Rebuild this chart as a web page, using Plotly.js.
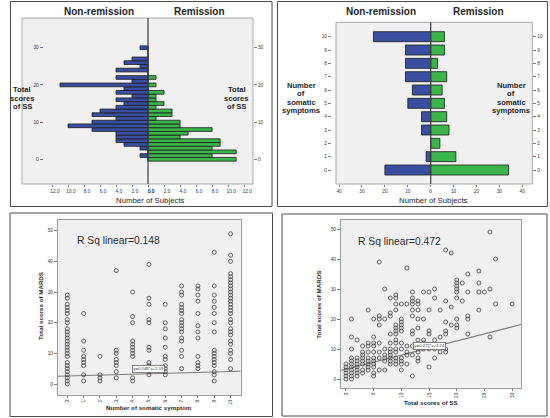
<!DOCTYPE html>
<html><head><meta charset="utf-8">
<script src="https://cdn.plot.ly/plotly-3.0.1.min.js"></script>
<style>html,body{margin:0;padding:0;background:#fff;}#chart{width:550px;height:418px;}</style>
</head><body><div id="chart"></div>
<script>
// ---------------- DATA ----------------
// Panel A: total scores of SS (0..30) by remission status
const ssBins = [0,1,2,3,4,5,6,7,8,9,10,11,12,13,14,15,16,17,18,19,20,21,22,23,24,25,26,27,28,29,30];
const ssNonRemission = [0,1,0,1,3,4,4,4,7,10,7,4,7,6,4,3,4,2,4,3,11,2,4,0,4,1,3,2,0,0,1];
const ssRemission    = [11,8,11,8,9,9,4,5,8,4,4,1,3,3,1,2,1,1,2,0,1,0,1,0,0,0,0,0,0,0,0];
const ssCountTicks = [0,2,4,6,8,10,12];
const ssScoreTicks = [0,10,20,30];

// Panel B: number of somatic symptoms (0..10) by remission status
const symptomBins = [0,1,2,3,4,5,6,7,8,9,10];
const symNonRemission = [20,2,0,4,4,10,8,11,11,11,25];
const symRemission    = [34,11,4,8,7,6,5,7,3,6,6];
const symCountTicksLeft = [10,20,30,40];
const symCountTicksRight = [0,10,20,30,40];

// Panel C: MADRS total by number of somatic symptoms (one list per symptom count)
const symptomLevels = [0,1,2,3,4,5,6,7,8,9,10];
const madrsAtSymptom = [
  [29,28,26,25,24,23,21,20,18,17,16,15,14,13,12,11,10,9,7,6,5,4,3,2,1,0],
  [23,14,11,9,8,7,6,3,1],
  [9,3,2,1],
  [37,11,10,8,7,6,4,2],
  [30,22,20,14,13,12,11,10,9,2,1],
  [39,28,26,21,20,12,11,7,6,5,4,3],
  [26,20,18,15,12,9,8,6,5,4,3],
  [32,30,29,26,25,24,23,21,20,19,18,17,15,14,11,9,5],
  [32,31,29,27,23,19,17,15,9,7,6,5],
  [43,32,29,27,25,23,20,17,11,10,9,8,7,6,4,3,1],
  [49,42,40,36,35,34,33,32,31,30,29,28,27,26,25,24,23,21,20,18,17,16,14,13,11,10,8,5]
];
const fitSymptom = [2.59, 0.148];   // intercept, slope of drawn line
const rSqSymptom = 0.148;

// Panel D: MADRS total by total scores of SS
const ssLevels = [0,1,2,3,4,5,6,7,8,9,10,11,12,13,14,15,16,17,18,19,20,21,22,24,25,26,27,30];
const madrsAtSS = [
  [5,4,3,2,1,0],
  [20,14,10,7,6,5,4,3,2,1,0],
  [13,7,6,5,4,3,2,1],
  [11,9,8,7,6,5,3,2],
  [23,12,11,9,7,6,5,4,3],
  [20,14,12,11,9,7,6,5,4,2,1],
  [39,21,20,18,12,9,7,3],
  [30,20,10,8,7,6,3],
  [27,22,21,15,12,10,9,8,7,6,5],
  [28,27,25,23,18,17,16,15,13,12,10,9,7,6,5],
  [25,20,19,18,17,16,12,10,7,6,5,3],
  [37,25,11,9,8,5],
  [29,27,26,25,23,21,16,15,11,8,1],
  [26,25,23,20,17,13,11,9,7,6],
  [29,20,13,12,10],
  [29,23,16,15,10,4],
  [30,27,13,10,7],
  [23,14,11,9],
  [43,26,19,16,15,10,9],
  [42,24,18],
  [33,32,31,30,29,27,20,18,17],
  [32,26],
  [35,29,21,20,15],
  [36,32,29,23],
  [29],
  [49,30,14],
  [40,25],
  [25]
];
const fitSS = [3.24, 0.472];
const rSqSS = 0.472;

// ---------------- DRAWING ----------------
const W = 550, H = 418;
const px = v => v / W;
const py = v => 1 - v / H;
const FONT = 'Liberation Sans, Arial, sans-serif';
const blue = '#3B4FA2', green = '#3BB54A';
const barLine = {color: '#1c1c1c', width: 0.8};

function flatten(levels, lists) {
  const xs = [], ys = [];
  levels.forEach((lv, i) => lists[i].forEach(v => { xs.push(lv); ys.push(v); }));
  return {xs, ys};
}

const rangeC = [-0.57, 10.62];
const rangeD = [-0.9, 31.6];
const scC = flatten(symptomLevels, madrsAtSymptom);
const scD = flatten(ssLevels, madrsAtSS);

const traces = [
  {type:'bar', orientation:'h', x:ssNonRemission, y:ssBins, xaxis:'x', yaxis:'y', width:1,
   marker:{color:blue, line:barLine}, hoverinfo:'skip'},
  {type:'bar', orientation:'h', x:ssRemission, y:ssBins, xaxis:'x2', yaxis:'y2', width:1,
   marker:{color:green, line:barLine}, hoverinfo:'skip'},
  {type:'bar', orientation:'h', x:symNonRemission, y:symptomBins, xaxis:'x3', yaxis:'y3', width:0.75,
   marker:{color:blue, line:barLine}, hoverinfo:'skip'},
  {type:'bar', orientation:'h', x:symRemission, y:symptomBins, xaxis:'x4', yaxis:'y4', width:0.75,
   marker:{color:green, line:barLine}, hoverinfo:'skip'},
  {type:'scatter', mode:'lines', x:rangeC, y:rangeC.map(v => fitSymptom[0] + fitSymptom[1]*v),
   xaxis:'x5', yaxis:'y5', line:{color:'#7a7a7a', width:1.1}, hoverinfo:'skip'},
  {type:'scatter', mode:'markers', x:scC.xs, y:scC.ys, xaxis:'x5', yaxis:'y5',
   marker:{symbol:'circle-open', size:4, color:'#3c3c3c', line:{width:0.8}}, hoverinfo:'skip'},
  {type:'scatter', mode:'lines', x:rangeD, y:rangeD.map(v => fitSS[0] + fitSS[1]*v),
   xaxis:'x6', yaxis:'y6', line:{color:'#7a7a7a', width:1.1}, hoverinfo:'skip'},
  {type:'scatter', mode:'markers', x:scD.xs, y:scD.ys, xaxis:'x6', yaxis:'y6',
   marker:{symbol:'circle-open', size:4, color:'#3c3c3c', line:{width:0.8}}, hoverinfo:'skip'}
];

const tickFont = {family: FONT, size: 4.8, color: '#333'};
function ax(o) {
  return Object.assign({showgrid:false, zeroline:false, ticks:'outside', ticklen:2, tickwidth:0.8,
    tickcolor:'#555', tickfont:tickFont, fixedrange:true, showline:false}, o);
}
const frameLine = {showline:true, mirror:true, linecolor:'#9a9a9a', linewidth:1};

const layout = {
  width: W, height: H,
  margin: {l:0, r:0, t:0, b:0},
  paper_bgcolor: '#ffffff', plot_bgcolor: '#F0F0F0',
  showlegend: false,
  font: {family: FONT},
  // Panel A
  xaxis:  ax({domain:[px(22), px(148)], range:[15.75, 0], anchor:'y', tickvals:ssCountTicks, tickformat:'.1f', ticklabelshift:-3}),
  yaxis:  ax({domain:[py(184), py(18)], range:[-6.65, 38], anchor:'free', position:px(42.7), tickvals:ssScoreTicks, ticklen:3}),
  xaxis2: ax({domain:[px(148), px(253)], range:[0, 13.1], anchor:'y2', tickvals:ssCountTicks, tickformat:'.1f', ticklabelshift:3}),
  yaxis2: ax({domain:[py(184), py(18)], range:[-6.65, 38], anchor:'x2', side:'right', tickvals:ssScoreTicks, ticklen:3}),
  // Panel B
  xaxis3: ax({domain:[px(336), px(430.7)], range:[41.35, 0], anchor:'y3', tickvals:symCountTicksLeft}),
  yaxis3: ax({domain:[py(184), py(22.3)], range:[-1.05, 11.08], anchor:'free', position:px(331), tickvals:symptomBins, ticklen:3}),
  xaxis4: ax({domain:[px(430.7), px(532.3)], range:[0, 44.4], anchor:'y4', tickvals:symCountTicksRight}),
  yaxis4: ax({domain:[py(184), py(22.3)], range:[-1.05, 11.08], anchor:'x4', side:'right', tickvals:symptomBins, ticklen:3}),
  // Panel C
  xaxis5: ax(Object.assign({domain:[px(58), px(240.7)], range:rangeC, anchor:'y5', tickvals:symptomLevels, tickangle:-90}, frameLine)),
  yaxis5: ax(Object.assign({domain:[py(395), py(220)], range:[-3.59, 53.5], anchor:'x5', tickvals:[0,10,20,30,40,50], ticklen:3}, frameLine)),
  // Panel D
  xaxis6: ax(Object.assign({domain:[px(341), px(521)], range:rangeD, anchor:'y6', tickvals:[0,5,10,15,20,25,30], tickangle:-90}, frameLine)),
  yaxis6: ax(Object.assign({domain:[py(387.7), py(220)], range:[-2.9, 53], anchor:'x6', tickvals:[0,10,20,30,40,50], ticklen:3}, frameLine)),
  shapes: [],
  annotations: []
};

function rect(x0, y0, x1, y1, color, w) {
  return {type:'rect', xref:'paper', yref:'paper', x0:px(x0), x1:px(x1), y0:py(y1), y1:py(y0),
          line:{color:color, width:w}, fillcolor:'rgba(0,0,0,0)', layer:'above'};
}
function vline(x, y0, y1, color, w) {
  return {type:'line', xref:'paper', yref:'paper', x0:px(x), x1:px(x), y0:py(y1), y1:py(y0),
          line:{color:color, width:w}, layer:'above'};
}
layout.shapes.push(
  rect(10.5, 1.5, 272, 206.5, '#4a4a4a', 1),
  rect(277.5, 1.5, 547.5, 206.5, '#4a4a4a', 1),
  rect(10, 213, 272.5, 416.5, '#4a4a4a', 1),
  rect(282, 214, 547, 416, '#4a4a4a', 1),
  rect(22, 18, 253, 184, '#a8a8a8', 1),
  rect(336, 22.3, 532.3, 184, '#a8a8a8', 1),
  vline(148, 18, 184, '#3a3a3a', 1.2),
  vline(430.7, 22.3, 184, '#3a3a3a', 1.2)
);

function txt(text, x, y, size, opts) {
  return Object.assign({xref:'paper', yref:'paper', x:px(x), y:py(y), text:text, showarrow:false,
    font:{family:FONT, size:size, color:'#1e1e1e'}, xanchor:'center', yanchor:'middle'}, opts || {});
}
const A = layout.annotations;
// Panel A texts
A.push(txt('<b>Non-remission</b>', 98.5, 11.7, 10));
A.push(txt('<b>Remission</b>', 199, 11.7, 10));
['Total', 'scores', 'of SS'].forEach((s, i) => {
  const yy = [89.5, 98, 106.7][i];
  A.push(txt('<b>' + s + '</b>', 22.3, yy, 7.6));
  A.push(txt('<b>' + s + '</b>', 236.7, yy, 7.6));
});
A.push(txt('Number of Subjects', 150, 200.5, 7.8));
// Panel B texts
A.push(txt('<b>Non-remission</b>', 380.5, 11.5, 10));
A.push(txt('<b>Remission</b>', 479, 11.5, 10));
['Number', 'of', 'somatic', 'symptoms'].forEach((s, i) => {
  const yy = [85.5, 93.7, 102, 110.7][i];
  A.push(txt('<b>' + s + '</b>', 301, yy, 7.6));
  A.push(txt('<b>' + s + '</b>', 511, yy, 7.6));
});
A.push(txt('Number of Subjects', 433.5, 200.5, 7.8));
// Panel C texts
A.push(txt('R Sq linear=' + rSqSymptom.toFixed(3), 74.7, 241, 10.3, {xanchor:'left', font:{family:FONT, size:10.3, color:'#2a2a2a'}}));
A.push(txt('<b>Total scores of MARDS</b>', 40, 306, 6.2, {textangle:-90}));
A.push(txt('<b>Number of somatic symptom</b>', 149.3, 407.5, 6.2));
A.push({xref:'x5', yref:'y5', x:5, y:4.9, showarrow:false,
  text:'y=' + fitSymptom[1] + '*x+' + fitSymptom[0],
  font:{family:FONT, size:4.3, color:'#333'}, bgcolor:'#ffffff', bordercolor:'#555', borderwidth:0.7, borderpad:0.6});
// Panel D texts
A.push(txt('R Sq linear=' + rSqSS.toFixed(3), 355.7, 241.5, 10.3, {xanchor:'left', font:{family:FONT, size:10.3, color:'#2a2a2a'}}));
A.push(txt('<b>Total scores of MARDS</b>', 317.7, 305, 6.2, {textangle:-90}));
A.push(txt('<b>Total scores of SS</b>', 430.7, 402.5, 6.2));
A.push({xref:'x6', yref:'y6', x:15, y:11, showarrow:false,
  text:'y=' + fitSS[1] + '*x+' + fitSS[0],
  font:{family:FONT, size:4.3, color:'#333'}, bgcolor:'#ffffff', bordercolor:'#555', borderwidth:0.7, borderpad:0.6});

Plotly.newPlot('chart', traces, layout, {staticPlot:true, displayModeBar:false});
</script>
</body></html>
